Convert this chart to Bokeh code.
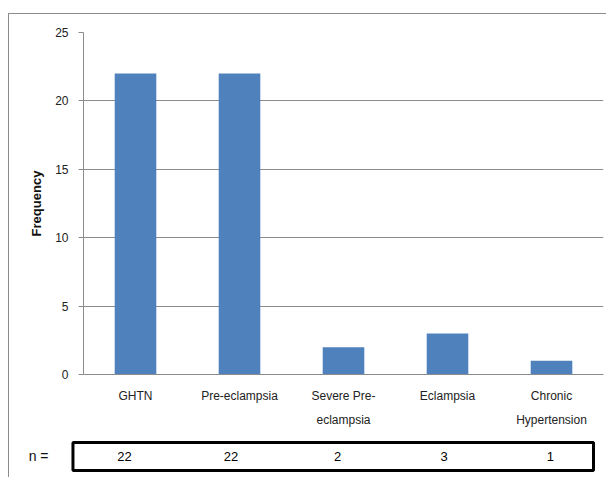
from bokeh.plotting import figure
from bokeh.layouts import column
from bokeh.models import Range1d, FactorRange, ColumnDataSource, Label
from bokeh.core.properties import value
from bokeh.embed import file_html
from bokeh.resources import INLINE

categories = ["GHTN", "Pre-eclampsia", "Severe Pre-\neclampsia", "Eclampsia", "Chronic\nHypertension"]
frequency = [22, 22, 2, 3, 1]
n_values = [22, 22, 2, 3, 1]
y_ticks = [0, 5, 10, 15, 20, 25]

FONT = "Liberation Sans"
GRID = "#8c8c8c"
BAR = "#4f81bd"

src = ColumnDataSource(dict(cat=categories, freq=frequency))

p = figure(x_range=FactorRange(*categories, range_padding=0), y_range=Range1d(0, 25),
           width=597, height=418, output_backend="svg", toolbar_location=None,
           min_border_left=74, min_border_right=3, min_border_top=18, min_border_bottom=58)
p.vbar(x="cat", top="freq", width=0.4, source=src, color=BAR, line_color=None)
p.outline_line_color = None
p.background_fill_color = "white"
p.border_fill_color = "white"

p.xgrid.grid_line_color = None
p.ygrid.grid_line_color = GRID
p.ygrid.grid_line_width = 1
p.yaxis.ticker = y_ticks
p.yaxis.axis_line_color = GRID
p.yaxis.major_tick_line_color = GRID
p.yaxis.major_tick_out = 5
p.yaxis.major_tick_in = 0
p.yaxis.minor_tick_line_color = None
p.yaxis.major_label_text_font = FONT
p.yaxis.major_label_text_font_size = "12px"
p.yaxis.major_label_text_color = "#222222"
p.yaxis.major_label_standoff = 10
p.yaxis.axis_label = "Frequency"
p.yaxis.axis_label_text_font = FONT
p.yaxis.axis_label_text_font_style = "bold"
p.yaxis.axis_label_text_font_size = "13px"
p.yaxis.axis_label_text_color = "#111111"
p.yaxis.axis_label_standoff = 8

p.xaxis.axis_line_color = GRID
p.xaxis.major_tick_line_color = None
p.xaxis.major_tick_out = 0
p.xaxis.major_tick_in = 0
p.xaxis.minor_tick_line_color = None
p.xaxis.major_label_text_font = FONT
p.xaxis.major_label_text_font_size = "12px"
p.xaxis.major_label_text_color = "#222222"
p.xaxis.major_label_text_line_height = 1.75
p.xaxis.major_label_standoff = 14

# table row with n values
idx = list(range(len(n_values)))
t = figure(x_range=Range1d(-1.08, 4.526), y_range=Range1d(0, 45), width=597, height=45,
           output_backend="svg", toolbar_location=None,
           x_axis_location=None, y_axis_location=None,
           min_border=0, min_border_left=0, min_border_right=0, min_border_top=0, min_border_bottom=0)
for fig in (p, t):
    try:
        fig.frame_align = False
    except Exception:
        pass
t.grid.grid_line_color = None
t.outline_line_color = None
t.quad(left=[-0.484], right=[4.404], bottom=[7], top=[35], fill_color=None,
       line_color="black", line_width=3)
tsrc = ColumnDataSource(dict(x=idx, y=[21] * len(idx), txt=[str(v) for v in n_values]))
t.text(x="x", y="y", text="txt", source=tsrc, text_align="center", text_baseline="middle",
       text_font=value(FONT), text_font_size="13px", text_color="#000000")
t.add_layout(Label(x=-0.90, y=22, text="n =", text_align="left", text_baseline="middle",
                   text_font=FONT, text_font_size="14px", text_color="#111111"))

layout = column(p, t, styles={"border-top": "1px solid #8c8c8c", "border-left": "1px solid #8c8c8c",
                              "margin-top": "13px", "margin-left": "8px"})

open("out.html", "w").write(file_html(layout, INLINE))
